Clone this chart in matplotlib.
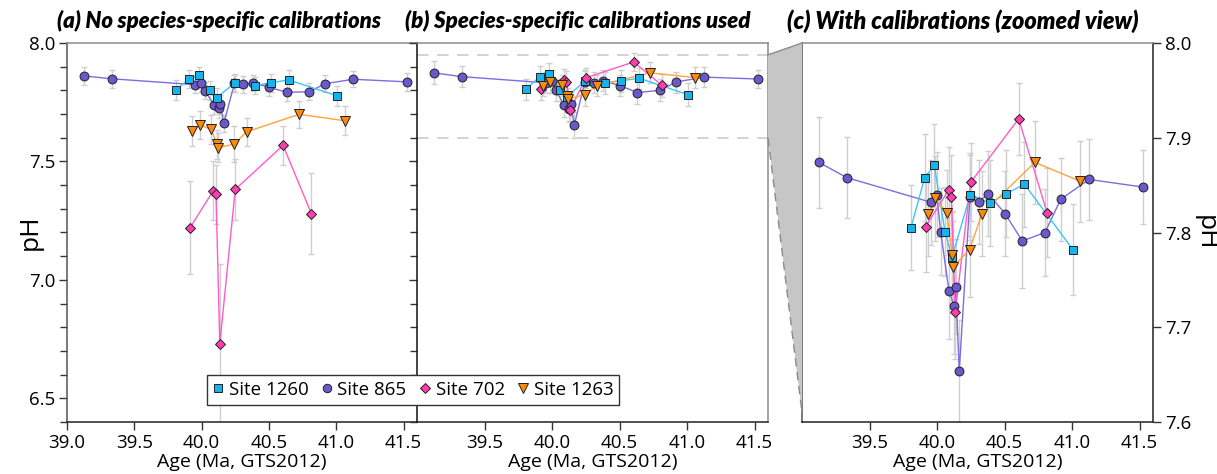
import numpy as np
import matplotlib
matplotlib.use("Agg")
import matplotlib.pyplot as plt
from matplotlib.lines import Line2D
from matplotlib.patches import Polygon
from matplotlib.ticker import MultipleLocator

plt.rcParams['font.family'] = ['Open Sans', 'DejaVu Sans']

# ---- data (ages in Ma, GTS2012) ----
sites = ['Site 1260', 'Site 865', 'Site 702', 'Site 1263']

age_1260 = [39.807, 39.909, 39.980, 40.059, 40.111, 40.247, 40.393, 40.514, 40.647, 41.007]
ph_1260_cal = [7.805, 7.858, 7.871, 7.801, 7.774, 7.840, 7.831, 7.841, 7.851, 7.782]
err_1260_cal = [0.045, 0.046, 0.044, 0.047, 0.048, 0.044, 0.045, 0.046, 0.045, 0.048]
ph_1260_raw = [7.801, 7.849, 7.863, 7.800, 7.769, 7.832, 7.820, 7.832, 7.844, 7.777]
err_1260_raw = [0.042, 0.037, 0.037, 0.040, 0.040, 0.038, 0.036, 0.038, 0.040, 0.042]

age_865 = [39.126, 39.331, 39.953, 39.998, 40.027, 40.089, 40.128, 40.138, 40.165,
           40.244, 40.309, 40.378, 40.504, 40.632, 40.800, 40.916, 41.126, 41.524]
ph_865_cal = [7.874, 7.858, 7.832, 7.840, 7.801, 7.738, 7.722, 7.743, 7.654,
              7.837, 7.832, 7.841, 7.820, 7.791, 7.800, 7.835, 7.856, 7.848]
err_865_cal = [0.048, 0.043, 0.045, 0.045, 0.046, 0.050, 0.050, 0.050, 0.054,
               0.045, 0.044, 0.045, 0.045, 0.050, 0.046, 0.044, 0.043, 0.039]
ph_865_raw = [7.861, 7.849, 7.824, 7.830, 7.799, 7.739, 7.724, 7.742, 7.661,
              7.830, 7.825, 7.832, 7.813, 7.792, 7.794, 7.828, 7.847, 7.836]
err_865_raw = [0.037, 0.038, 0.036, 0.036, 0.036, 0.040, 0.040, 0.040, 0.035,
               0.036, 0.036, 0.035, 0.035, 0.038, 0.036, 0.035, 0.034, 0.038]

age_702 = [39.915, 40.087, 40.107, 40.135, 40.250, 40.605, 40.815]
ph_702_cal = [7.806, 7.845, 7.837, 7.716, 7.853, 7.920, 7.821]
err_702_cal = [0.048, 0.045, 0.045, 0.050, 0.041, 0.038, 0.047]
ph_702_raw = [7.221, 7.377, 7.362, 6.728, 7.382, 7.568, 7.280]
err_702_raw = [0.195, 0.125, 0.125, 0.340, 0.130, 0.083, 0.170]

age_1263 = [39.932, 39.987, 40.072, 40.113, 40.121, 40.241, 40.334, 40.725, 41.062]
ph_1263_cal = [7.819, 7.836, 7.821, 7.776, 7.764, 7.782, 7.820, 7.874, 7.854]
err_1263_cal = [0.044, 0.045, 0.045, 0.047, 0.048, 0.050, 0.045, 0.044, 0.043]
ph_1263_raw = [7.629, 7.653, 7.635, 7.573, 7.558, 7.573, 7.625, 7.699, 7.672]
err_1263_raw = [0.063, 0.060, 0.060, 0.061, 0.060, 0.076, 0.060, 0.058, 0.061]

titles = ['(a) No species-specific calibrations',
          '(b) Species-specific calibrations used',
          '(c) With calibrations (zoomed view)']

# style per site: marker, size, face colour, line colour, zorder
styles = {
    'Site 865':  ('o', 6.4, '#6a58cc', '#7d6de0', 3),
    'Site 1260': ('s', 6.0, '#14b4ee', '#3cc6f6', 4),
    'Site 702':  ('D', 5.2, '#ff3cb0', '#ff5cc6', 5),
    'Site 1263': ('v', 7.2, '#ff8a0a', '#ffa240', 6),
}

raw = {'Site 1260': (age_1260, ph_1260_raw, err_1260_raw),
       'Site 865': (age_865, ph_865_raw, err_865_raw),
       'Site 702': (age_702, ph_702_raw, err_702_raw),
       'Site 1263': (age_1263, ph_1263_raw, err_1263_raw)}
cal = {'Site 1260': (age_1260, ph_1260_cal, err_1260_cal),
       'Site 865': (age_865, ph_865_cal, err_865_cal),
       'Site 702': (age_702, ph_702_cal, err_702_cal),
       'Site 1263': (age_1263, ph_1263_cal, err_1263_cal)}

W, H = 1217, 474
fig = plt.figure(figsize=(W / 100, H / 100), dpi=100)


def rect(x0, x1, top=43, bot=422):
    return [x0 / W, 1 - bot / H, (x1 - x0) / W, (bot - top) / H]


ax_a = fig.add_axes(rect(67, 417))
ax_b = fig.add_axes(rect(417, 768))
ax_c = fig.add_axes(rect(802, 1153))

FS = 13.5
ERRC = '#cfcfcf'


def draw_sites(ax, data):
    for name in ['Site 865', 'Site 1260', 'Site 702', 'Site 1263']:
        x, y, e = data[name]
        mk, ms, fc, lc, z = styles[name]
        ax.errorbar(x, y, yerr=e, fmt='none', ecolor=ERRC, elinewidth=1.0,
                    capsize=2.2, capthick=1.0, zorder=1)
        ax.plot(x, y, '-', color=lc, lw=1.0, zorder=2)
        ax.plot(x, y, ls='none', marker=mk, ms=ms, mfc=fc, mec='#222222',
                mew=0.7, zorder=z)


def style_axis(ax):
    ax.set_xlim(39.0, 41.6)
    ax.xaxis.set_major_locator(MultipleLocator(0.5))
    ax.tick_params(axis='both', which='both', direction='out', labelsize=FS,
                   width=1.0, color='#333333', pad=2.5)
    ax.tick_params(which='major', length=6)
    ax.tick_params(which='minor', length=5)
    ax.set_xlabel('Age (Ma, GTS2012)', fontsize=14, labelpad=1)
    for s in ax.spines.values():
        s.set_linewidth(1.1)


# ---- (a) ----
draw_sites(ax_a, raw)
style_axis(ax_a)
ax_a.set_ylim(6.4, 8.0)
ax_a.yaxis.set_major_locator(MultipleLocator(0.5))
ax_a.yaxis.set_minor_locator(MultipleLocator(0.1))
ax_a.yaxis.set_major_formatter('{x:.1f}')
ax_a.xaxis.set_major_formatter('{x:.1f}')
ax_a.set_ylabel('pH', fontsize=19)
ax_a.yaxis.set_label_coords(-0.105, 0.5)
ax_a.yaxis.label.set_va('center')
ax_a.spines['right'].set_visible(False)
ax_a.spines['top'].set_color('#8a8a8a')
ax_a.spines['left'].set_color('#555555')
ax_a.spines['bottom'].set_color('#222222')

# ---- (b) ----
ax_b.axhline(7.95, color='#cccccc', lw=1.2, ls=(0, (7, 5)), zorder=0)
ax_b.axhline(7.60, color='#cccccc', lw=1.2, ls=(0, (7, 5)), zorder=0)
draw_sites(ax_b, cal)
style_axis(ax_b)
ax_b.set_ylim(6.4, 8.0)
ax_b.yaxis.set_major_locator(MultipleLocator(0.5))
ax_b.yaxis.set_minor_locator(MultipleLocator(0.1))
ax_b.tick_params(axis='y', labelleft=False)
ax_b.set_xticks([39.5, 40.0, 40.5, 41.0, 41.5])
ax_b.xaxis.set_major_formatter('{x:.1f}')
ax_b.spines['left'].set_color('#111111')
ax_b.spines['right'].set_color('#8a8a8a')
ax_b.spines['top'].set_color('#8a8a8a')
ax_b.spines['bottom'].set_color('#222222')

# ---- (c) ----
draw_sites(ax_c, cal)
style_axis(ax_c)
ax_c.set_ylim(7.6, 8.0)
ax_c.set_yticks([7.6, 7.7, 7.8, 7.9, 8.0])
ax_c.yaxis.set_major_formatter('{x:.1f}')
ax_c.set_xticks([39.5, 40.0, 40.5, 41.0, 41.5])
ax_c.xaxis.set_major_formatter('{x:.1f}')
ax_c.yaxis.tick_right()
ax_c.yaxis.set_label_position('right')
ax_c.set_ylabel('pH', fontsize=19, rotation=270)
ax_c.yaxis.set_label_coords(1.148, 0.5)
ax_c.yaxis.label.set_va('center')
ax_c.yaxis.label.set_ha('center')
ax_c.spines['left'].set_color('#555555')
ax_c.spines['top'].set_color('#8a8a8a')
ax_c.spines['right'].set_color('#222222')
ax_c.spines['bottom'].set_color('#222222')

# ---- zoom connector between (b) and (c) ----
inv = fig.transFigure.inverted()
p1 = inv.transform(ax_b.transData.transform((41.6, 7.95)))
p4 = inv.transform(ax_b.transData.transform((41.6, 7.60)))
p2 = inv.transform(ax_c.transData.transform((39.0, 8.0)))
p3 = inv.transform(ax_c.transData.transform((39.0, 7.61)))
fig.patches.append(Polygon([p1, p2, p3, p4], closed=True, transform=fig.transFigure,
                           facecolor='#c6c6c6', edgecolor='none', zorder=0))
fig.add_artist(Line2D([p1[0], p2[0]], [p1[1], p2[1]], transform=fig.transFigure,
                      color='#8a8a8a', lw=1.0))
fig.add_artist(Line2D([p4[0], p3[0]], [p4[1], p3[1]], transform=fig.transFigure,
                      color='#8a8a8a', lw=1.0, ls=(0, (6, 4))))

# ---- titles (bold italic, fitted to the reference widths) ----
tfont = dict(family=['Lato', 'DejaVu Sans'], fontsize=15,
             fontweight='heavy', fontstyle='italic', va='center', ha='left')
title_x = [57, 405, 787]
title_w = [326, 347, 353]
renderer = fig.canvas.get_renderer()
for txt, x0, tw in zip(titles, title_x, title_w):
    t = fig.text(x0 / W, 1 - 21 / H, txt, **tfont)
    w = t.get_window_extent(renderer).width
    t.set_fontsize(15 * tw / w)

# ---- legend ----
handles = []
for name in sites:
    mk, ms, fc, lc, z = styles[name]
    handles.append(Line2D([], [], ls='none', marker=mk, ms=ms * 0.95, mfc=fc,
                          mec='#222222', mew=0.7, label=name))
leg = fig.legend(handles=handles, loc='center', ncol=4,
                 bbox_to_anchor=(413 / W, 1 - 390 / H), fontsize=FS,
                 frameon=True, fancybox=False, framealpha=1, edgecolor='#333333',
                 handlelength=0.6, handletextpad=0.25, columnspacing=0.7,
                 borderpad=0.3)
leg.get_frame().set_linewidth(1.0)

fig.savefig('out.png', dpi=100)
